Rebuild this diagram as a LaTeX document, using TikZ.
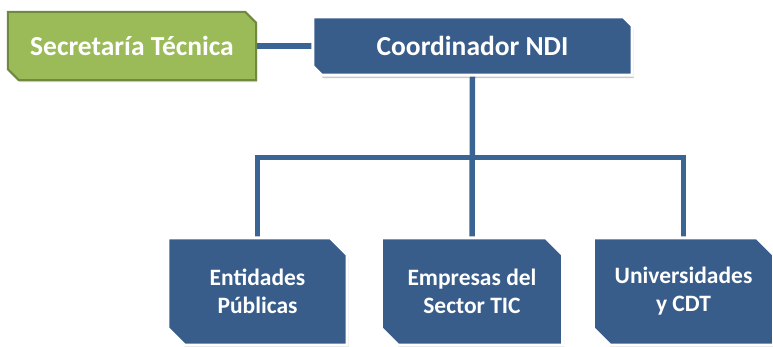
\documentclass[tikz,border=0pt]{standalone}
\usepackage{fontspec}
\setmainfont{Carlito}
\usetikzlibrary{backgrounds,shadows}
\definecolor{boxblue}{HTML}{385D8A}
\definecolor{lineblue}{HTML}{3A6494}
\definecolor{boxgreen}{HTML}{9BBB59}
\definecolor{greenedge}{HTML}{71893F}
% #1 node name, #2 snip size, #3 style
\newcommand\snipshape[3]{%
  \draw[#3] (#1.north west) -- ([xshift=-#2]#1.north east) -- ([yshift=-#2]#1.north east)
    -- (#1.south east) -- ([xshift=#2]#1.south west) -- ([yshift=#2]#1.south west) -- cycle;}
\begin{document}
\begin{tikzpicture}[x=1pt,y=-1pt,
  lbl/.style={inner sep=0pt, align=center, text=white, font=\bfseries\fontsize{23.5}{28}\selectfont},
  toplbl/.style={lbl, font=\bfseries\fontsize{27.5}{30}\selectfont},
  conn/.style={draw=lineblue, line width=5.5pt},
  bluebox/.style={fill=boxblue, draw=white, line width=3pt,
    drop shadow={shadow xshift=1.5pt, shadow yshift=-3pt, opacity=0.3, fill=black!70}},
  greenbox/.style={fill=boxgreen, draw=greenedge, line width=2pt,
    drop shadow={shadow xshift=1pt, shadow yshift=-2pt, opacity=0.25, fill=black!70}}]
  \useasboundingbox (0,0) rectangle (773,346);
  \node[toplbl, minimum width=248, minimum height=68] (sec) at (132,46) {Secretaría Técnica};
  \node[toplbl, minimum width=319, minimum height=58] (coord) at (472.5,46) {Coordinador NDI};
  \node[lbl, minimum width=179, minimum height=107] (ent) at (257.5,291.5) {Entidades\\Públicas};
  \node[lbl, minimum width=181, minimum height=107] (emp) at (472,291.5) {Empresas del\\Sector TIC};
  \node[lbl, minimum width=180, minimum height=107] (univ) at (683.5,291.5) {Universidades\\y CDT};
  \coordinate (j) at (472,157.5);
  \begin{scope}[on background layer]
    \draw[conn] (sec.east) -- (coord.west);
    \draw[conn] (coord.south) -- (emp.north);
    \draw[conn, line join=miter] (ent.north) |- (univ.north |- j) -- (univ.north);
    \snipshape{sec}{11pt}{greenbox}
    \snipshape{coord}{9pt}{bluebox}
    \snipshape{ent}{17pt}{bluebox}
    \snipshape{emp}{17pt}{bluebox}
    \snipshape{univ}{17pt}{bluebox}
  \end{scope}
\end{tikzpicture}
\end{document}
